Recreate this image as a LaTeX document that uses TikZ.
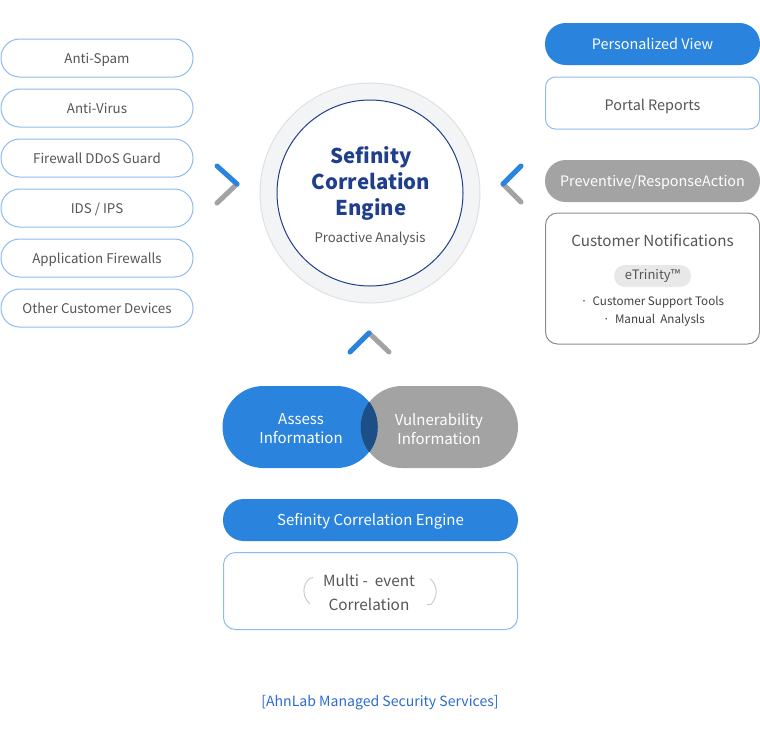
\documentclass[tikz,border=0pt]{standalone}
\usepackage{fontspec}
\setmainfont{Noto Sans CJK KR}
\usetikzlibrary{calc}

\definecolor{msBlue}{HTML}{2A83DD}
\definecolor{msGray}{HTML}{A3A3A3}
\definecolor{msDark}{HTML}{1C4F86}
\definecolor{msNavy}{HTML}{1F3E8C}
\definecolor{msLine}{HTML}{8DBBEE}
\definecolor{msText}{HTML}{555555}
\definecolor{msRing}{HTML}{F3F4F6}
\definecolor{msPale}{HTML}{E8E8E8}
\definecolor{msCap}{HTML}{2D6BD0}

\begin{document}
\begin{tikzpicture}[x=0.75pt, y=-0.75pt,
  srcbox/.style={draw=msLine, line width=0.75pt, fill=white, rounded corners=14pt,
    minimum width=144pt, minimum height=28.5pt, inner sep=0pt, text=msText,
    text height=0.86em, text depth=0pt, font=\fontsize{10}{12}\selectfont},
  bluepill/.style={fill=msBlue, text=white, rounded corners=15.5pt, inner sep=0pt,
    minimum height=31.5pt, text height=0.84em, text depth=0pt, font=\fontsize{10.8}{13.5}\selectfont},
  graypill/.style={bluepill, fill=msGray},
  chevblue/.style={draw=msBlue, line width=3.75pt, line cap=round},
  chevgray/.style={draw=msGray, line width=3.75pt, line cap=round},
  cycarc/.style={draw=black!20, line width=0.75pt}]

  \useasboundingbox (0,0) rectangle (760,729);

  % sources on the left
  \node[srcbox] (spam) at (97,58) {Anti-Spam};
  \node[srcbox] (virus) at (97,108) {Anti-Virus};
  \node[srcbox] (ddos) at (97,158) {Firewall DDoS Guard};
  \node[srcbox] (ids) at (97,208) {IDS / IPS};
  \node[srcbox] (appfw) at (97,258) {Application Firewalls};
  \node[srcbox] (other) at (97,308) {Other Customer Devices};

  % engine in the middle
  \node[circle, draw=black!12, line width=0.75pt, fill=msRing, minimum size=165pt] (ring) at (370,193) {};
  \node[circle, draw=msNavy, line width=0.75pt, fill=white, minimum size=139.5pt] (core) at (ring) {};
  \node[text=msNavy, align=center, font=\fontsize{15.3}{19.5}\selectfont\bfseries] (title) at (371,183.5) {Sefinity\\Correlation\\Engine};
  \node[text=msText, font=\fontsize{9.9}{12}\selectfont] (proact) at (370,238.5) {Proactive Analysis};

  % outputs on the right
  \node[bluepill, minimum width=161.25pt] (pview) at (652.5,44) {Personalized View};
  \node[draw=msLine, line width=0.75pt, rounded corners=7.5pt, minimum width=160.5pt, minimum height=39pt,
    text height=1.05em, text depth=0pt, text=msText, font=\fontsize{10.8}{13.5}\selectfont] (portal) at (652.5,103) {Portal Reports};
  \node[graypill, minimum width=161.25pt] (prev) at (652.5,181) {Preventive/ResponseAction};
  \node[draw=black!45, line width=0.75pt, rounded corners=9pt, minimum width=160.5pt, minimum height=98.25pt] (notify) at (652.5,278.5) {};
  \node[text=msText, font=\fontsize{11.4}{14}\selectfont] (custn) at (652.5,240.5) {Customer Notifications};
  \node[fill=msPale, rounded corners=8pt, minimum width=57.75pt, minimum height=16.5pt, inner sep=0pt,
    text=msText, font=\fontsize{9.75}{11}\selectfont] (etri) at (652.5,276) {eTrinity™};
  \node[text=black!75, font=\fontsize{8.75}{10}\selectfont] (tools) at (652.5,302.5) {·\ \ Customer Support Tools};
  \node[text=black!75, font=\fontsize{8.75}{10}\selectfont] (manual) at (654,320.5) {·\ \ Manual\ \ Analysls};

  % chevrons
  \draw[chevgray] (237,184) -- (217,203);
  \draw[chevblue] (217,166) -- (237,184);
  \draw[chevgray] (503,184) -- (521,202);
  \draw[chevblue] (521,166) -- (503,184);
  \draw[chevgray] (369,333) -- (389,352);
  \draw[chevblue] (350,352) -- (369,333);

  % inputs below
  \node[bluepill, rounded corners=30.75pt, minimum width=116.25pt, minimum height=61.5pt] (assess) at (300,427) {};
  \node[graypill, rounded corners=30.75pt, minimum width=117.75pt, minimum height=61.5pt] (vuln) at (439.5,427) {};
  \begin{scope}
    \clip[rounded corners=30.75pt] (assess.north west) rectangle (assess.south east);
    \fill[msDark, rounded corners=30.75pt] (vuln.north west) rectangle (vuln.south east);
  \end{scope}
  \node[text=white, align=center, font=\fontsize{11.25}{14}\selectfont] (assesst) at (301,428.5) {Assess\\Information};
  \node[text=white, align=center, font=\fontsize{11.25}{14}\selectfont] (vulnt) at (439,429) {Vulnerability\\Information};

  \node[bluepill, minimum width=221.25pt, font=\fontsize{11.25}{13.5}\selectfont] (engine) at (370.5,520) {Sefinity Correlation Engine};
  \node[draw=msLine, line width=0.75pt, rounded corners=9pt, minimum width=220.5pt, minimum height=57.75pt] (multi) at (370.5,591) {};
  \node[text=msText, align=center, font=\fontsize{11.5}{18}\selectfont] (multit) at (369,592) {Multi -\ \ event\\Correlation};
  \draw[cycarc] (313,577.5) -- (309.5,578.5) .. controls (302,585) and (302,597) .. (310,604);
  \draw[cycarc] (430,578.5) .. controls (438,585) and (438,597) .. (431,604.5) -- (427,604.5);

  \node[text=msCap, font=\fontsize{10.55}{13}\selectfont] (caption) at (380,702.5) {[AhnLab Managed Security Services]};

\end{tikzpicture}
\end{document}
